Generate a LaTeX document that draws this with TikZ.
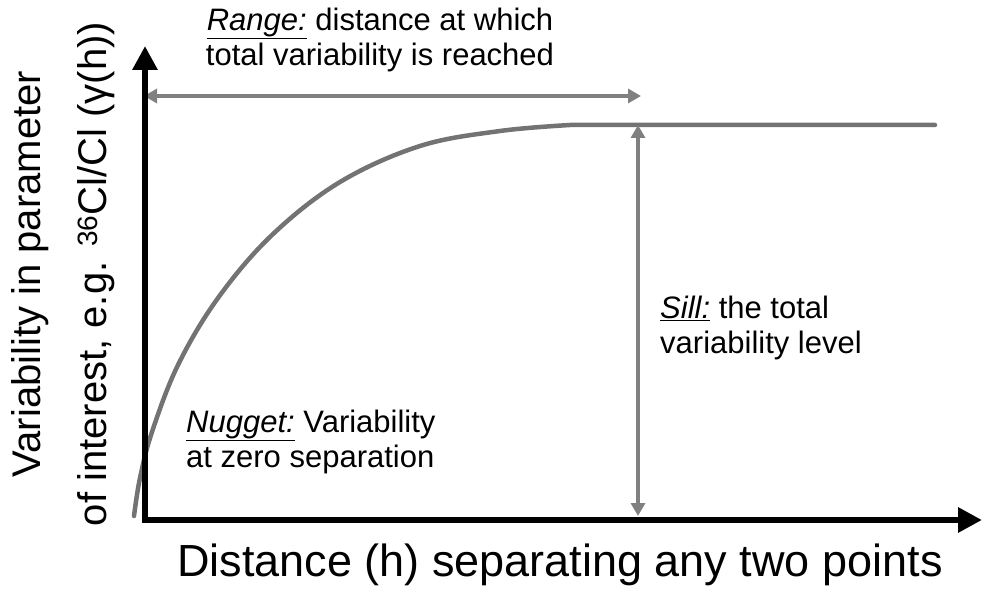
\documentclass[tikz,border=0pt]{standalone}
\usepackage{fontspec}
\setmainfont{Liberation Sans}
\usetikzlibrary{arrows.meta}
\newcommand{\term}[1]{\underline{\textit{#1}}}

\begin{document}
\begin{tikzpicture}[x=1pt,y=-1pt]
  \tikzset{every node/.style={inner sep=0pt},
    axis/.style={line width=6pt,-{Triangle[width=24pt,length=24pt]}},
    greyline/.style={line width=4.5pt,black!55},
    greyarrow/.style={line width=3.5pt,black!50,{Triangle[width=14pt,length=13pt]}-{Triangle[width=14pt,length=13pt]}},
    note/.style={align=left,font=\fontsize{31}{35}\selectfont},
    axlabel/.style={font=\fontsize{45}{66}\selectfont}}

  \useasboundingbox (0,0) rectangle (982,593);

  \coordinate (O) at (145,520);
  \coordinate (Ytop) at (145,46);
  \coordinate (Xend) at (982,520);
  \coordinate (S) at (570,125);
  \coordinate (Send) at (935,125);

  % semivariogram curve
  \draw[greyline,line cap=round]
    plot[smooth,tension=0.6] coordinates {(134,516) (140,478) (152,432) (178,365) (218,298) (272,235) (340,182) (420,146) (500,131) (S)}
    -- (Send);

  % range and sill
  \coordinate (RL) at (144,96);
  \coordinate (RR) at (641,96);
  \coordinate (SB) at (638,516);
  \coordinate (ST) at (638,125);
  \draw[greyarrow] (RL) -- (RR);
  \draw[greyarrow] (SB) -- (ST);

  % axis
  \draw[axis] (O) -- (Ytop);
  \draw[axis] (O) ++(-3,0) -- (Xend);

  % labels
  \node[note,align=center] (range) at (380,40) {\term{Range:} distance at which\\total variability is reached};
  \node[note,anchor=west] (sill) at (660,328) {\term{Sill:} the total\\variability level};
  \node[note,anchor=west] (nugget) at (186,442) {\term{Nugget:} Variability\\at zero separation};
  \node[axlabel] (xlab) at (560,565) {Distance (h) separating any two points};
  \node[axlabel,rotate=90,align=center,font=\fontsize{40}{66}\selectfont] (ylab) at (63,274) {Variability in parameter\\of interest, e.g. \textsuperscript{36}Cl/Cl (γ(h))};

\end{tikzpicture}
\end{document}
